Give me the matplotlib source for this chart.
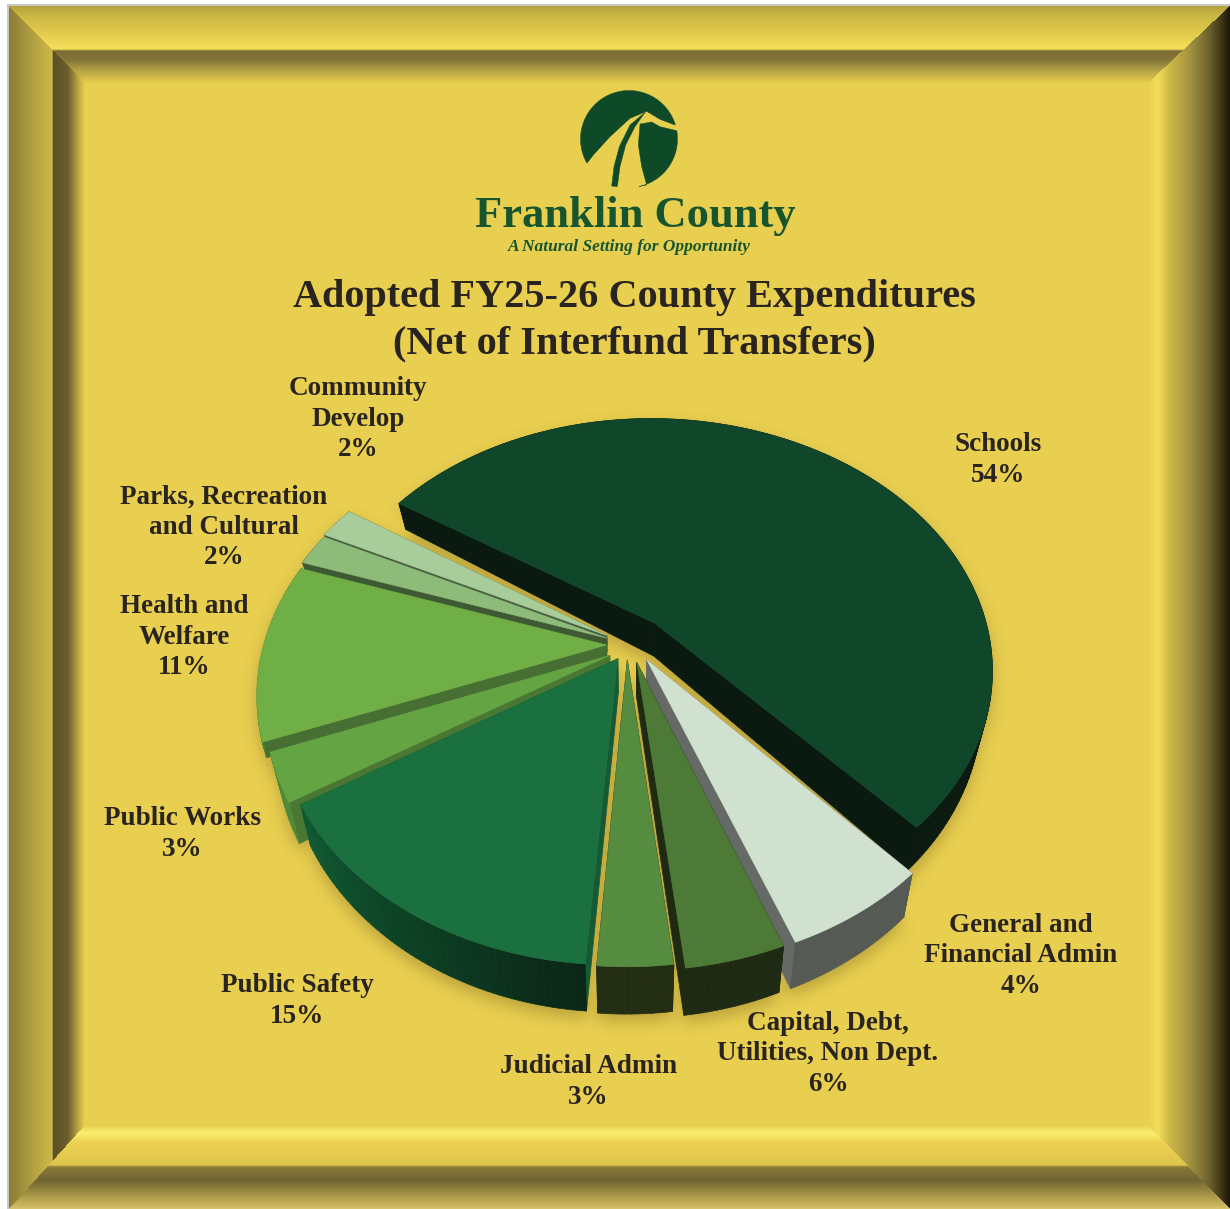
import numpy as np
import matplotlib
matplotlib.use("Agg")
import matplotlib.pyplot as plt
from matplotlib.path import Path
from matplotlib.patches import Polygon
from matplotlib.collections import PolyCollection
from matplotlib.colors import to_rgb

# Budget shares, clockwise from the top-left edge of the largest slice
categories = ["Schools", "Capital, Debt,\nUtilities, Non Dept.", "General and\nFinancial Admin",
              "Judicial Admin", "Public Safety", "Public Works", "Health and\nWelfare",
              "Parks, Recreation\nand Cultural", "Community\nDevelop"]
values = [54, 6, 4, 3, 15, 3, 11, 2, 2]

title_lines = ["Adopted FY25-26 County Expenditures", "(Net of Interfund Transfers)"]

# Per-slice appearance: top face, radial side, rim at slice start and end
top_colors = ["#10472A", "#D0E2CF", "#4E7A37", "#568C3F", "#1B7040", "#64A443", "#6FAF45", "#8DBB79", "#A8CD9B"]
side_colors = ["#0A1A10", "#666A66", "#1F2A12", "#222D13", "#155A34", "#4A7833", "#476F33", "#3F5A33", "#4A5F43"]
rim_start = ["#0A1A10", "#555B54", "#1F2A14", "#222D13", "#0B2617", "#4F8A3A", "#4F7E36", "#3F5A33", "#4A5F43"]
rim_end = ["#0A1A10", "#555B54", "#1F2A14", "#222D13", "#0F5A33", "#4F8A3A", "#4F7E36", "#3F5A33", "#4A5F43"]
# How far each slice is pulled away from the hub, its radius scale and its thickness scale
pull_u = [0.075, 0.05, 0.02, -0.008, -0.036, -0.06, -0.07, -0.07, -0.07]
pull_v = [-0.09, 0.06, 0.07, 0.06, 0.055, 0.042, 0.0, -0.028, -0.039]
radius_scale = [1.012, 1.0, 1.0, 1.0, 1.0, 1.01, 1.03, 1.03, 1.03]
thickness = [1.0, 1.0, 1.0, 1.0, 1.0, 1.0, 0.4, 0.4, 0.3]
label_centres = [(998, 460), (828, 1054), (1021, 956), (588, 1082), (297, 1001), (182, 834),
                 (184, 637), (224, 527), (358, 419)]
paint_order = [0, 1, 2, 8, 7, 6, 5, 3, 4]

W, H = 1230, 1209
BG = "#E9CF50"
INK = "#2A2420"
SERIF = "Liberation Serif"

fig = plt.figure(figsize=(W / 100, H / 100), dpi=100)
ax = fig.add_axes([0, 0, 1, 1])
ax.set_xlim(0, W)
ax.set_ylim(H, 0)
ax.axis("off")


def ramp(coord, stops):
    """Interpolate a colour ramp given as (position, hex) stops."""
    pos = [s[0] for s in stops]
    rgb = np.array([to_rgb(s[1]) for s in stops])
    return np.stack([np.interp(coord, pos, rgb[:, i]) for i in range(3)], axis=-1)


def bevelled_frame():
    """Gold picture frame with four mitred bevels around a flat panel."""
    L, T, R, B = 9, 6, 1230, 1209
    iL, iT, iR, iB = 85, 83, 1148, 1125
    yy, xx = np.mgrid[0:H, 0:W] + 0.5
    img = np.ones((H, W, 3))
    img[:] = to_rgb(BG)
    dl = (xx - L) / (iL - L)
    dt = (yy - T) / (iT - T)
    dr = (R - xx) / (R - iR)
    db = (B - yy) / (B - iB)
    d = np.stack([dl, dt, dr, db])
    side = d.argmin(axis=0)
    band = d.min(axis=0) < 1
    left = ramp(xx, [(9, "#8A7D35"), (30, "#AD9D40"), (52, "#CDB948"), (53.5, "#5C5026"), (68, "#6B5F2E"),
                     (78, "#B8A544"), (85, BG)])
    top = ramp(yy, [(6, "#B5A23E"), (16, "#CBB744"), (32, "#E0C94C"), (49, "#F6E05A"), (51, "#7A6C33"),
                    (60, "#84753A"), (72, "#BBA846"), (83, BG)])
    right = ramp(xx, [(1148, BG), (1158, "#F3DC58"), (1170, "#CDB848"), (1190, "#A39340"), (1210, "#6B5F2C"),
                      (1230, "#1C1707")])
    bottom = ramp(yy, [(1125, BG), (1133, "#FBEE70"), (1142, "#EDD250"), (1165, "#DDC44C"), (1167, "#8A7B38"),
                       (1180, "#706434"), (1195, "#A69545"), (1209, "#D8C26A")])
    for i, ramp_img in enumerate([left, top, right, bottom]):
        m = band & (side == i)
        img[m] = ramp_img[m]
    img[(xx < L) | (yy < T)] = 1.0
    img[((xx >= L - 2) & (xx < L) & (yy >= T - 2)) | ((yy >= T - 2) & (yy < T) & (xx >= L - 2))] = to_rgb("#C8C8C8")
    ax.imshow(img, extent=(0, W, H, 0), interpolation="nearest", zorder=0, aspect="auto")


bevelled_frame()

# Projection of the tilted disc: the near side swells toward the viewer
CX, CY, RX, RY, K = 630.0, 645.0, 333.0, 246.0, 0.179


def project(u, v, drop=0.0):
    """Map disc coordinates to canvas pixels; drop > 0 selects the underside."""
    w = 1 - K * v
    x = CX + RX * u / w
    y = CY + RY * v / w
    x = CX + (x - CX) * (1 - 0.03 * drop)
    y = y + drop * (34 + 12.5 * v)
    return np.column_stack([x, y])


edges = np.cumsum([0] + values) / sum(values) * 360.0 - 57.0
slices = []
for i, val in enumerate(values):
    a0, a1 = np.radians(edges[i]), np.radians(edges[i + 1])
    ou, ov = pull_u[i], pull_v[i]
    th = np.linspace(a0, a1, max(int(np.degrees(a1 - a0)) + 2, 6))
    u = ou + radius_scale[i] * np.sin(th)
    v = ov - radius_scale[i] * np.cos(th)
    slices.append(dict(apex=(np.array([ou]), np.array([ov])), u=u, v=v))

# Soft drop shadow under the whole disc
yy, xx = np.mgrid[0:H, 0:W] + 0.5
grid = np.column_stack([xx.ravel(), yy.ravel()])
mask = np.zeros(xx.size, dtype=bool)
for i, s in enumerate(slices):
    au, av = s["apex"]
    for drop in (0.0, thickness[i]):
        outline = np.vstack([project(au, av, drop), project(s["u"], s["v"], drop)])
        mask |= Path(outline + [0, 7]).contains_points(grid)
mask = mask.reshape(xx.shape).astype(float)
fy = np.fft.fftfreq(H)[:, None]
fx = np.fft.rfftfreq(W)[None, :]
sigma = 8.0
blur = np.fft.irfft2(np.fft.rfft2(mask) * np.exp(-2 * (np.pi * sigma) ** 2 * (fx ** 2 + fy ** 2)), s=mask.shape)
shadow = np.zeros((H, W, 4))
shadow[..., :3] = to_rgb("#5A4510")
shadow[..., 3] = np.clip(blur, 0, 1) * 0.34
ax.imshow(shadow, extent=(0, W, H, 0), interpolation="bilinear", zorder=1, aspect="auto")
ax.set_xlim(0, W)
ax.set_ylim(H, 0)

# Paint the slices from the back of the disc to the front
z = 2
for i in paint_order:
    s = slices[i]
    au, av = s["apex"]
    atop, abot = project(au, av), project(au, av, thickness[i])
    rtop, rbot = project(s["u"], s["v"]), project(s["u"], s["v"], thickness[i])
    for k in (0, -1):
        ax.add_patch(Polygon([atop[0], rtop[k], rbot[k], abot[0]], closed=True, fc=side_colors[i],
                             ec=side_colors[i], lw=0.5, zorder=z))
    frac = np.linspace(0, 1, len(rtop) - 1)[:, None]
    cols = (1 - frac) * np.array(to_rgb(rim_start[i])) + frac * np.array(to_rgb(rim_end[i]))
    quads = [[rtop[j], rtop[j + 1], rbot[j + 1], rbot[j]] for j in range(len(rtop) - 1)]
    ax.add_collection(PolyCollection(quads, facecolors=cols, edgecolors=cols, linewidths=0.5, zorder=z))
    ax.add_patch(Polygon(np.vstack([atop, rtop]), closed=True, fc=top_colors[i], ec=top_colors[i], lw=0.4,
                         zorder=z + 0.5))
    z += 1

# County emblem: a leaf disc split by a curving road
LOGO = "#0F4A28"


def emblem(pts):
    """Convert emblem outline points from a 3x drawing grid to canvas pixels."""
    return [(460 + px / 3, 80 + py / 3) for px, py in pts]


ec, er = (629.0, 139.0), 48.5


def rim_arc(deg0, deg1):
    t = np.radians(np.linspace(deg0, deg1, 60))
    return [(ec[0] + er * np.cos(a), ec[1] + er * np.sin(a)) for a in t]


blob_a = rim_arc(150, 343) + emblem([(645, 135), (600, 118), (560, 94), (510, 115), (450, 170), (400, 225)])
blob_b = emblem([(540, 132), (575, 126), (600, 140), (650, 152)]) + rim_arc(-8, 78) + emblem(
    [(560, 315), (545, 260), (535, 195)])
stem = emblem([(556, 96), (510, 135), (478, 200), (462, 260), (455, 318), (472, 320), (480, 260), (497, 195),
               (525, 140)])
for outline in (blob_a, blob_b, stem):
    ax.add_patch(Polygon(outline, closed=True, fc=LOGO, ec=LOGO, lw=0.3, zorder=30))

ax.text(635, 216, "Franklin County", family=SERIF, weight="bold", fontsize=32, color="#17552F", ha="center",
        va="center", zorder=31)
ax.text(629, 247, "A Natural Setting for Opportunity", family=SERIF, style="italic", weight="bold", fontsize=12.5,
        color="#17552F", ha="center", va="center", zorder=31)

for text, y in zip(title_lines, (298, 344)):
    ax.text(634, y, text, family=SERIF, weight="bold", fontsize=29, color=INK, ha="center", va="center", zorder=31)

for cat, val, (lx, ly) in zip(categories, values, label_centres):
    ax.text(lx, ly, f"{cat}\n{val}%", family=SERIF, weight="bold", fontsize=19.5, color=INK, ha="center",
            va="center", linespacing=1.27, zorder=31)

fig.savefig("out.png", dpi=100)
